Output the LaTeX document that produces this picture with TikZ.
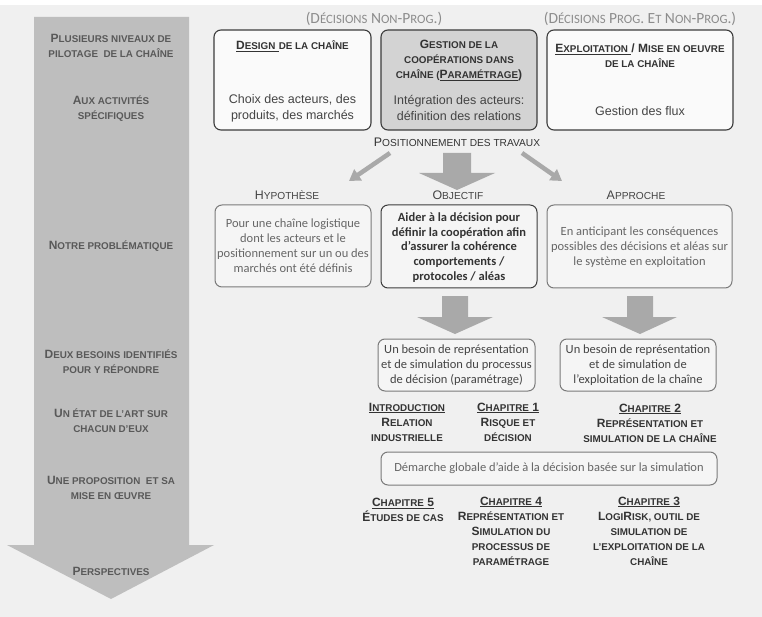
\documentclass[tikz,border=0pt]{standalone}
\usepackage{fontspec}
\setmainfont{Liberation Sans}
\newfontfamily\calib{Carlito}
\usetikzlibrary{arrows.meta}
\definecolor{bg}{HTML}{F0F0F0}
\definecolor{bigarrow}{HTML}{BEBEBE}
\definecolor{blk}{HTML}{A9A9A9}
\definecolor{lefttxt}{HTML}{595959}
\definecolor{darktxt}{HTML}{333333}
\definecolor{midtxt}{HTML}{444444}
\definecolor{softtxt}{HTML}{666666}
\definecolor{parentxt}{HTML}{8C8C8C}
\definecolor{boxgray}{HTML}{D3D3D3}
\definecolor{boxwhite}{HTML}{FAFAFA}
\definecolor{boxsoft}{HTML}{F5F5F5}
\definecolor{border}{HTML}{3C3C3C}
\definecolor{softborder}{HTML}{7A7A7A}
\makeatletter
\newcommand\sm[1]{{\fontsize{\the\dimexpr\f@size pt*82/100\relax}{\f@baselineskip}\selectfont\MakeUppercase{#1}}}
\makeatother
\tikzset{
  lefthead/.style={font=\bfseries\fontsize{12}{15}\selectfont, text=lefttxt, align=center, inner sep=0pt},
  tophead/.style={font=\bfseries\fontsize{12}{15}\selectfont, text=darktxt, align=center, inner sep=0pt},
  topbody/.style={font=\fontsize{12.5}{15.5}\selectfont, text=midtxt, align=center, inner sep=0pt},
  topbox/.style={draw=border, line width=1.1pt, rounded corners=7pt, fill=boxwhite, inner sep=0pt},
  softbox/.style={draw=softborder, line width=1pt, rounded corners=7pt, fill=boxsoft, inner sep=0pt},
  calbody/.style={font=\calib\fontsize{12.5}{15}\selectfont, text=softtxt, align=center, inner sep=0pt},
  chap/.style={font=\bfseries\fontsize{12}{15}\selectfont, text=darktxt, align=center, inner sep=0pt},
  lbl/.style={font=\fontsize{12.4}{15}\selectfont, text=darktxt, inner sep=0pt},
  parenlbl/.style={font=\calib\fontsize{15.5}{18}\selectfont, text=parentxt, inner sep=0pt},
  blockarrow/.style={fill=blk, draw=none},
  slant/.style={draw=blk, line width=4.5pt, -{Triangle[length=11pt,width=13pt]}}
}
\begin{document}
\begin{tikzpicture}[x=1pt,y=-1pt]
\useasboundingbox (0,0) rectangle (762,617);
\fill[white] (0,0) rectangle (762,5);
\fill[bg] (0,5) rectangle (762,617);
% big left arrow
\fill[bigarrow] (34,17) -- (189,17) -- (189,545) -- (214,545) -- (111,599) -- (7,545) -- (34,545) -- cycle;
% left headings
\node[lefthead] (l1) at (111,45.5) {P\sm{lusieurs niveaux de}\\\sm{pilotage\ \ de la chaîne}};
\node[lefthead] (l2) at (111,108.5) {A\sm{ux activités}\\\sm{spécifiques}};
\node[lefthead] (l3) at (111,246) {N\sm{otre problématique}};
\node[lefthead] (l4) at (111,362) {D\sm{eux besoins identifiés}\\\sm{pour y répondre}};
\node[lefthead] (l5) at (111,421) {U\sm{n état de l’art sur}\\\sm{chacun d’eux}};
\node[lefthead] (l6) at (111,487.5) {U\sm{ne proposition\ \ et sa}\\\sm{mise en œuvre}};
\node[lefthead] (l7) at (111,571) {P\sm{erspectives}};
% parenthesis labels
\node[parenlbl] (p1) at (374,19) {(D\sm{écisions} N\sm{on}-P\sm{rog}.)};
\node[parenlbl] (p2) at (640,19) {(D\sm{écisions} P\sm{rog}. E\sm{t} N\sm{on}-P\sm{rog}.)};
% top boxes
\node[topbox, minimum width=157pt, minimum height=100pt] (b1) at (292.5,80) {};
\node[topbox, fill=boxgray, minimum width=156pt, minimum height=100pt] (b2) at (459,80) {};
\node[topbox, minimum width=186pt, minimum height=100pt] (b3) at (640,80) {};
\node[tophead] (b1h) at (292.5,46) {\underline{D\sm{esign}\ }\sm{de la chaîne}};
\node[topbody] (b1t) at (292.5,108.5) {Choix des acteurs, des\\produits, des marchés};
\node[tophead] (b2h) at (459,61) {G\sm{estion de la}\\\sm{coopérations dans}\\\sm{chaîne (}\underline{P\sm{aramétrage}})};
\node[topbody] (b2t) at (459,108) {Intégration des acteurs:\\définition des relations};
\node[tophead] (b3h) at (640,55.5) {\underline{E\sm{xploitation}\ }/ M\sm{ise en oeuvre}\\\sm{de la chaîne}};
\node[topbody] (b3t) at (640,111) {Gestion des flux};
% positionnement
\node[lbl] (pos) at (457,142) {P\sm{ositionnement des travaux}};
\coordinate (s1a) at (390,153);
\coordinate (s1b) at (349,181);
\coordinate (s2a) at (522,153);
\coordinate (s2b) at (562,181);
\draw[slant] (s1a) -- (s1b);
\draw[slant] (s2a) -- (s2b);
\fill[blockarrow] (443,153) -- (471,153) -- (471,173) -- (495,173) -- (457,190) -- (419,173) -- (443,173) -- cycle;
% second row labels
\node[lbl, text=midtxt] (hyp) at (287,195) {H\sm{ypothèse}};
\node[lbl, text=midtxt] (obj) at (458,195) {O\sm{bjectif}};
\node[lbl, text=midtxt] (app) at (636,195) {A\sm{pproche}};
\node[softbox, minimum width=156pt, minimum height=82pt] (hb) at (293,246) {};
\node[softbox, draw=border, minimum width=156pt, minimum height=83pt] (ob) at (459,246.5) {};
\node[softbox, minimum width=185pt, minimum height=83pt] (ab) at (639.5,246.5) {};
\node[calbody] (ht) at (293,246) {Pour une chaîne logistique\\dont les acteurs et le\\positionnement sur un ou des\\marchés ont été définis};
\node[calbody, font=\calib\bfseries\fontsize{12.5}{14.8}\selectfont, text=darktxt] (ot) at (459,247.5) {Aider à la décision pour\\définir la coopération afin\\d’assurer la cohérence\\comportements /\\protocoles / aléas};
\node[calbody] (at) at (639.5,247) {En anticipant les conséquences\\possibles des décisions et aléas sur\\le système en exploitation};
% down arrows
\fill[blockarrow] (442,296) -- (468,296) -- (468,317) -- (493,317) -- (455,334) -- (417,317) -- (442,317) -- cycle;
\fill[blockarrow] (627,296) -- (653,296) -- (653,317) -- (677,317) -- (640,334) -- (602,317) -- (627,317) -- cycle;
% need boxes
\node[softbox, minimum width=157pt, minimum height=52pt] (n1) at (456.5,365) {};
\node[softbox, minimum width=156pt, minimum height=52pt] (n2) at (638,365) {};
\node[calbody, text=midtxt] (n1t) at (456.5,365) {Un besoin de représentation\\et de simulation du processus\\de décision (paramétrage)};
\node[calbody, text=midtxt] (n2t) at (638,365) {Un besoin de représentation\\et de simulation de\\l’exploitation de la chaîne};
% chapters row 1
\node[chap] (c0) at (407,422) {\underline{I\sm{ntroduction}}\\R\sm{elation}\\\sm{industrielle}};
\node[chap] (c1) at (508,422) {\underline{C\sm{hapitre} 1}\\R\sm{isque et}\\\sm{décision}};
\node[chap] (c2) at (650,423) {\underline{C\sm{hapitre} 2}\\R\sm{eprésentation et}\\\sm{simulation de la chaîne}};
% demarche
\node[softbox, minimum width=336pt, minimum height=33pt] (dm) at (549,468.5) {};
\node[calbody] (dmt) at (549,468.5) {Démarche globale d’aide à la décision basée sur la simulation};
% chapters row 2
\node[chap] (c5) at (403,510) {\underline{C\sm{hapitre} 5}\\É\sm{tudes de cas}};
\node[chap] (c4) at (511,531) {\underline{C\sm{hapitre} 4}\\R\sm{eprésentation et}\\S\sm{imulation du}\\\sm{processus de}\\\sm{paramétrage}};
\node[chap] (c3) at (649,531) {\underline{C\sm{hapitre} 3}\\L\sm{ogi}R\sm{isk, outil de}\\\sm{simulation de}\\\sm{l’exploitation de la}\\\sm{chaîne}};
\end{tikzpicture}
\end{document}
